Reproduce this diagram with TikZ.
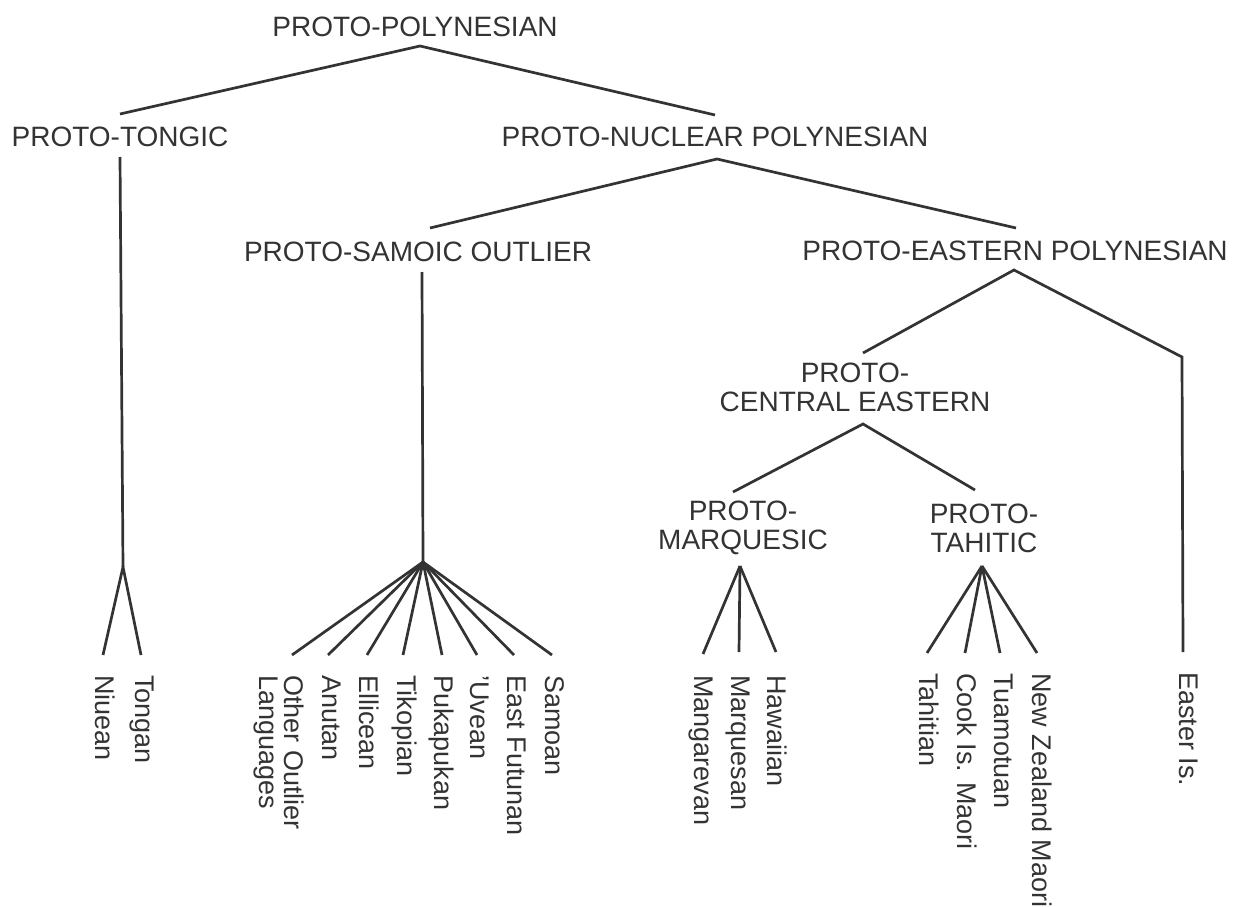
\documentclass[tikz,border=0pt]{standalone}
\usepackage{fontspec}
\setmainfont{Liberation Sans}
\definecolor{ink}{HTML}{333333}
\begin{document}
\begin{tikzpicture}[x=1pt,y=-1pt,
  lbl/.style={inner sep=0pt,text=ink,font=\fontsize{28}{29}\selectfont,align=center},
  leaf/.style={inner sep=0pt,text=ink,font=\fontsize{27}{25}\selectfont,rotate=-90,anchor=mid west,align=left},
  branch/.style={draw=ink,line width=2.7pt,line join=miter}]
\useasboundingbox (0,0) rectangle (1234,907);
% labels
\node[lbl] (pp) at (415,27) {PROTO-POLYNESIAN};
\node[lbl] (pt) at (120,137) {PROTO-TONGIC};
\node[lbl] (pnp) at (715,137) {PROTO-NUCLEAR POLYNESIAN};
\node[lbl] (pso) at (418,252) {PROTO-SAMOIC OUTLIER};
\node[lbl] (pep) at (1015,251) {PROTO-EASTERN POLYNESIAN};
\node[lbl] (pce) at (855,387) {PROTO-\\CENTRAL EASTERN};
\node[lbl] (pm) at (743,528) {PROTO-\\MARQUESIC};
\node[lbl] (pta) at (984,528) {PROTO-\\TAHITIC};
% leaves
\node[leaf] (niu) at (98,675) {Niuean};
\node[leaf] (ton) at (138,675) {Tongan};
\node[leaf] (oth) at (262,675) {Other Outlier\\Languages};
\node[leaf] (anu) at (325,675) {Anutan};
\node[leaf] (ell) at (362,675) {Ellicean};
\node[leaf] (tik) at (400,675) {Tikopian};
\node[leaf] (puk) at (437,675) {Pukapukan};
\node[leaf] (uve) at (473,675) {’Uvean};
\node[leaf] (efu) at (510,675) {East Futunan};
\node[leaf] (sam) at (548,675) {Samoan};
\node[leaf] (man) at (697,675) {Mangarevan};
\node[leaf] (mar) at (734,675) {Marquesan};
\node[leaf] (haw) at (770,675) {Hawaiian};
\node[leaf] (tah) at (922,673) {Tahitian};
\node[leaf] (coo) at (960,673) {Cook Is. Maori};
\node[leaf] (tua) at (997,673) {Tuamotuan};
\node[leaf] (nzm) at (1035,673) {New Zealand Maori};
\node[leaf] (eas) at (1182,672) {Easter Is.};
% branch points
\coordinate (aPP) at (420,46);
\coordinate (ePT) at (120,114);
\coordinate (ePNP) at (715,115);
\coordinate (sPT) at (120,157);
\coordinate (jPT) at (123,567);
\coordinate (aPNP) at (717,159);
\coordinate (ePSO) at (430,228);
\coordinate (ePEP) at (1016,228);
\coordinate (sPSO) at (422,272);
\coordinate (jPSO) at (423,562);
\coordinate (aPEP) at (1014,270);
\coordinate (ePCE) at (863,353);
\coordinate (kEas) at (1182,357);
\coordinate (aPCE) at (863,424);
\coordinate (ePM) at (733,492);
\coordinate (ePTA) at (975,490);
\coordinate (jPM) at (740,566);
\coordinate (jPTA) at (982,566);
% leaf line ends
\coordinate (lniu) at (103,655);
\coordinate (lton) at (141,655);
\coordinate (loth) at (292,655);
\coordinate (lanu) at (328,655);
\coordinate (lell) at (367,655);
\coordinate (ltik) at (403,655);
\coordinate (lpuk) at (442,655);
\coordinate (luve) at (477,655);
\coordinate (lefu) at (514,655);
\coordinate (lsam) at (552,655);
\coordinate (lman) at (703,654);
\coordinate (lmar) at (739,652);
\coordinate (lhaw) at (776,652);
\coordinate (ltah) at (927,653);
\coordinate (lcoo) at (965,653);
\coordinate (ltua) at (1000,653);
\coordinate (lnzm) at (1037,653);
\coordinate (leas) at (1183,652);
% connectors
\draw[branch] (ePT) -- (aPP) -- (ePNP);
\draw[branch] (sPT) -- (jPT);
\draw[branch] (lniu) -- (jPT) -- (lton);
\draw[branch] (ePSO) -- (aPNP) -- (ePEP);
\draw[branch] (sPSO) -- (jPSO);
\foreach \l in {loth,lanu,lell,ltik,lpuk,luve,lefu,lsam}
  \draw[branch] (jPSO) -- (\l);
\draw[branch] (ePCE) -- (aPEP) -- (kEas) -- (leas);
\draw[branch] (ePM) -- (aPCE) -- (ePTA);
\foreach \l in {lman,lmar,lhaw}
  \draw[branch] (jPM) -- (\l);
\foreach \l in {ltah,lcoo,ltua,lnzm}
  \draw[branch] (jPTA) -- (\l);
\end{tikzpicture}
\end{document}
